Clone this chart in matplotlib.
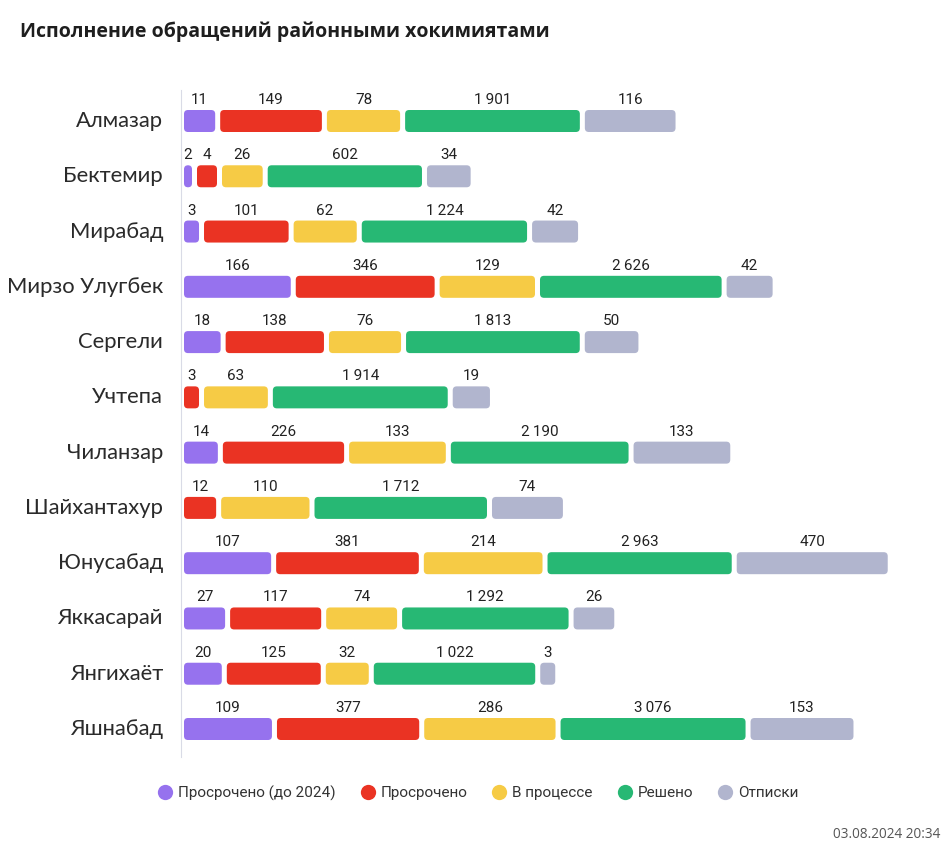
import numpy as np
import matplotlib
matplotlib.use("Agg")
import matplotlib.pyplot as plt
from matplotlib.patches import FancyBboxPatch
from matplotlib.lines import Line2D

districts = ["Алмазар", "Бектемир", "Мирабад", "Мирзо Улугбек", "Сергели", "Учтепа",
             "Чиланзар", "Шайхантахур", "Юнусабад", "Яккасарай", "Янгихаёт", "Яшнабад"]
series = ["Просрочено (до 2024)", "Просрочено", "В процессе", "Решено", "Отписки"]

overdue_old = [11, 2, 3, 166, 18, 0, 14, 0, 107, 27, 20, 109]
overdue = [149, 4, 101, 346, 138, 3, 226, 12, 381, 117, 125, 377]
in_progress = [78, 26, 62, 129, 76, 63, 133, 110, 214, 74, 32, 286]
solved = [1901, 602, 1224, 2626, 1813, 1914, 2190, 1712, 2963, 1292, 1022, 3076]
replies = [116, 34, 42, 42, 50, 19, 133, 74, 470, 26, 3, 153]

colors = ["#9672EE", "#EA3323", "#F6CB45", "#27B874", "#B1B5CE"]

# the dashboard squeezes bar lengths; approximate its scale (value -> px)
scale_v = [2, 4, 42, 150, 250, 470, 1000, 3076]
scale_px = [8, 20, 46, 102, 126, 151, 161, 185]


def bar_len(v):
    return np.interp(np.log10(v), np.log10(scale_v), scale_px)


def fmt(v):
    s = f"{v:,}"
    return s.replace(",", "\u2009")


W, H = 948, 849
fig = plt.figure(figsize=(W / 100, H / 100), dpi=100)
ax = fig.add_axes([181 / W, 1 - 757 / H, (930 - 181) / W, (757 - 90) / H])

row_px = 55.27
ax.set_xlim(0, 930 - 181)
ax.set_ylim(11 + 28 / row_px, -31 / row_px)
bar_h = 22 / row_px
gap = 5

data = [overdue_old, overdue, in_progress, solved, replies]
for i in range(len(districts)):
    x = 3
    for k in range(len(series)):
        v = data[k][i]
        if v == 0:
            continue
        w = bar_len(v)
        p = FancyBboxPatch((x, i - bar_h / 2), w, bar_h,
                           boxstyle="round,pad=0,rounding_size=4",
                           mutation_aspect=1 / row_px,
                           fc=colors[k], ec="none")
        ax.add_patch(p)
        ax.text(x + w / 2, i - bar_h / 2 - 6 / row_px, fmt(v), ha="center", va="baseline",
                fontsize=11, family=["Roboto", "DejaVu Sans"], color="#222222")
        x += w + gap
    ax.text(-18, i, districts[i], ha="right", va="center", fontsize=15.8,
            family=["Lato", "DejaVu Sans"], color="#2a2a2a")

for s in ["top", "right", "bottom"]:
    ax.spines[s].set_visible(False)
ax.spines["left"].set_color("#d9dbe6")
ax.set_xticks([])
ax.set_yticks([])

fig.text(20 / W, 1 - 32 / H, "Исполнение обращений районными хокимиятами", ha="left", va="center",
         fontsize=14, fontweight="bold", family=["Open Sans", "DejaVu Sans"], color="#1e1e1e")

handles = [Line2D([], [], marker="o", ls="none", markersize=11, mfc=c, mec="none") for c in colors]
fig.legend(handles, series, loc="center", bbox_to_anchor=(478 / W, 1 - 793 / H), ncol=5,
           frameon=False, handletextpad=0.35, columnspacing=1.6, handlelength=1.0,
           prop={"family": ["Roboto", "DejaVu Sans"], "size": 11}, labelcolor="#333333")

fig.text(940 / W, 1 - 834 / H, "03.08.2024 20:34", ha="right", va="center", fontsize=9.8,
         family=["Open Sans", "DejaVu Sans"], color="#555555")

fig.savefig("out.png", dpi=100, facecolor="white")
